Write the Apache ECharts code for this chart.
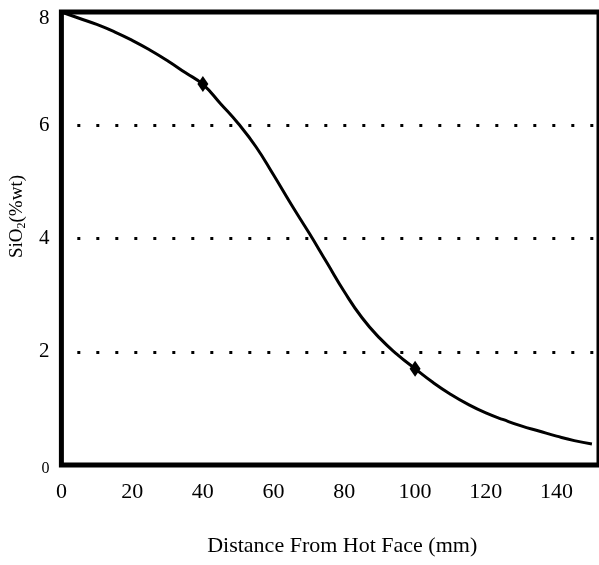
<!DOCTYPE html>
<html>
<head>
<meta charset="utf-8">
<script src="https://cdn.jsdelivr.net/npm/echarts@6/dist/echarts.min.js"></script>
<style>
  html, body { margin: 0; padding: 0; background: #fff; }
  #chart { width: 599px; height: 565px; }
</style>
</head>
<body>
<div id="chart"></div>
<script>
// curve (distance in mm, SiO2 in %wt)
const distance = [0, 5, 10, 15, 20, 25, 30, 35, 40, 45, 50, 55, 60, 65, 70, 75,
  80, 85, 90, 95, 100, 105, 110, 115, 120, 125, 130, 135, 140, 145, 150];
const sio2 = [8.0, 7.89, 7.78, 7.65, 7.5, 7.33, 7.14, 6.93, 6.72, 6.38, 6.03, 5.62, 5.12, 4.6, 4.1, 3.58,
  3.06, 2.6, 2.24, 1.95, 1.7, 1.46, 1.25, 1.07, 0.92, 0.8, 0.69, 0.6, 0.51, 0.43, 0.37];

// measured points (diamonds)
const markedDistance = [40, 100];
const markedSio2 = [6.73, 1.7];

// dotted reference levels
const refLevels = [6, 4, 2];
const refStart = 4.5;
const refEnd = 152;

const serif = "Liberation Serif";

const chart = echarts.init(document.getElementById("chart"));

const option = {
  backgroundColor: "#fff",
  animation: false,
  grid: {
    left: 60,
    top: 12,
    right: -8,
    bottom: 100,
    show: true,
    borderWidth: 5,
    borderColor: "#000",
  },
  xAxis: {
    type: "value",
    min: 0,
    max: 152,
    interval: 20,
    name: "Distance From Hot Face (mm)",
    nameLocation: "middle",
    nameGap: 70,
    nameTextStyle: {
      fontFamily: serif,
      fontSize: 22,
      color: "#000",
      padding: [0, 0, 0, 24],
    },
    axisLine: { show: false },
    axisTick: { show: false },
    splitLine: { show: false },
    axisLabel: {
      showMaxLabel: false,
      margin: 16,
      fontFamily: serif,
      fontSize: 22,
      color: "#000",
    },
  },
  yAxis: {
    type: "value",
    min: 0,
    max: 8,
    interval: 2,
    name: "{n|SiO}{s|2}{n|(%wt)}",
    nameLocation: "middle",
    nameGap: 28,
    nameTextStyle: {
      padding: [0, 0, 0, 44],
      rich: {
        n: { fontFamily: serif, fontSize: 19, color: "#000" },
        s: { fontFamily: serif, fontSize: 12, color: "#000", verticalAlign: "bottom", padding: [9, 0, 0, 0] },
      },
    },
    axisLine: { show: false },
    axisTick: { show: false },
    splitLine: { show: false },
    axisLabel: {
      margin: 12,
      fontFamily: serif,
      fontSize: 21,
      color: "#000",
      formatter: (v) => (v === 0 ? "{z|0}" : v === 8 ? "{t|8}" : String(v)),
      rich: {
        z: { fontFamily: serif, fontSize: 16, color: "#000", padding: [8, 0, 0, 0] },
        t: { fontFamily: serif, fontSize: 21, color: "#000", padding: [12, 0, 0, 0] },
      },
    },
  },
  series: [
    {
      name: "SiO2",
      type: "line",
      data: distance.map((d, i) => [d, sio2[i]]),
      smooth: 0.5,
      showSymbol: false,
      symbol: "none",
      lineStyle: { color: "#000", width: 3 },
      markLine: {
        silent: true,
        symbol: ["none", "none"],
        label: { show: false },
        lineStyle: { color: "#000", width: 3, type: [3, 16], cap: "butt" },
        data: refLevels.map((lv) => [{ coord: [refStart, lv] }, { coord: [refEnd, lv] }]),
      },
    },
    {
      name: "Measured",
      type: "scatter",
      data: markedDistance.map((d, i) => [d, markedSio2[i]]),
      symbol: "diamond",
      symbolSize: [11, 16],
      itemStyle: { color: "#000", opacity: 1 },
      z: 5,
    },
  ],
};

chart.setOption(option);
</script>
</body>
</html>
